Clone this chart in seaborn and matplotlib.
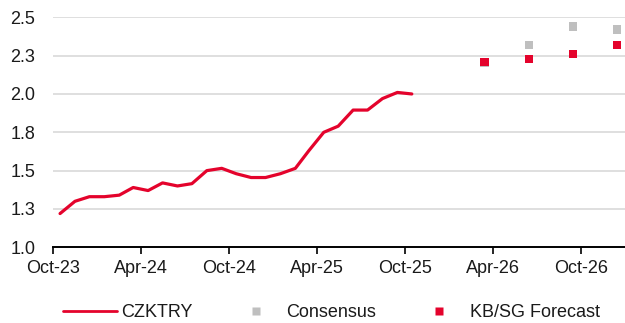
import matplotlib
matplotlib.use("Agg")
import matplotlib.pyplot as plt
import seaborn as sns
import pandas as pd

# CZK/TRY monthly history
hist_months = pd.period_range("2023-10", "2025-10", freq="M")
hist_values = [1.22, 1.30, 1.33, 1.33, 1.34, 1.39, 1.37, 1.42, 1.40, 1.415,
               1.50, 1.515, 1.48, 1.455, 1.455, 1.48, 1.515, 1.63, 1.75, 1.79,
               1.895, 1.895, 1.97, 2.01, 2.00]

# Quarterly outlook
fc_months = ["2026-03", "2026-06", "2026-09", "2026-12"]
consensus = [2.20, 2.32, 2.44, 2.42]
kbsg_forecast = [2.21, 2.23, 2.26, 2.32]

y_ticks = [1.0, 1.25, 1.5, 1.75, 2.0, 2.25, 2.5]
y_tick_labels = ["1.0", "1.3", "1.5", "1.8", "2.0", "2.3", "2.5"]
x_tick_labels = ["Oct-23", "Apr-24", "Oct-24", "Apr-25", "Oct-25", "Apr-26", "Oct-26"]

RED = "#E4032C"
GREY = "#BFBFBF"
TEXT = "#1A1A1A"
FS = 13

sns.set_theme(style="white")
plt.rcParams["font.family"] = ["Liberation Sans", "DejaVu Sans"]
plt.rcParams["font.size"] = FS


def mid_month(periods):
    return [p.to_timestamp() + pd.Timedelta(days=14) for p in periods]


hist = pd.DataFrame({"date": mid_month(hist_months), "value": hist_values})
fc_periods = pd.PeriodIndex(fc_months, freq="M")
outlook = pd.DataFrame({
    "date": mid_month(fc_periods) * 2,
    "value": consensus + kbsg_forecast,
    "series": ["Consensus"] * len(consensus) + ["KB/SG Forecast"] * len(kbsg_forecast),
})

fig = plt.figure(figsize=(6.25, 3.23), dpi=100)
ax = fig.add_axes([0.0853, 0.2344, 0.9147, 0.712])

for y in y_ticks[1:]:
    ax.axhline(y, color="#D9D9D9", lw=1.2, zorder=0)

sns.lineplot(data=hist, x="date", y="value", ax=ax, color=RED, lw=2.3,
             label="CZKTRY", zorder=3)
sns.scatterplot(data=outlook, x="date", y="value", hue="series",
                palette={"Consensus": GREY, "KB/SG Forecast": RED},
                marker="s", s=36, edgecolor="none", ax=ax, zorder=4)

ax.set_xlim(pd.Timestamp("2023-10-01"), pd.Timestamp("2027-01-01"))
ax.set_ylim(1.0, 2.5)
tick_dates = pd.to_datetime(x_tick_labels, format="%b-%y")
ax.set_xticks(tick_dates)
ax.set_xticklabels(x_tick_labels)
ax.set_yticks(y_ticks)
ax.set_yticklabels(y_tick_labels)
ax.set_xlabel("")
ax.set_ylabel("")

for side in ["top", "right", "left"]:
    ax.spines[side].set_visible(False)
ax.spines["bottom"].set_color("black")
ax.spines["bottom"].set_linewidth(1.4)
ax.tick_params(axis="x", direction="out", length=5, width=1.2, color="black",
               bottom=True, pad=4, labelcolor=TEXT, labelsize=FS)
ax.tick_params(axis="y", length=0, pad=13, labelcolor=TEXT, labelsize=FS)

handles, labels = ax.get_legend_handles_labels()
leg = ax.legend(handles, labels, loc="center", bbox_to_anchor=(0.487, -0.284),
                ncol=3, frameon=False, handlelength=3.0, handletextpad=0.2,
                columnspacing=2.0, markerscale=0.85, fontsize=FS, labelcolor=TEXT)
leg.get_lines()[0].set_linewidth(2.0)

fig.savefig("out.png", dpi=100)
